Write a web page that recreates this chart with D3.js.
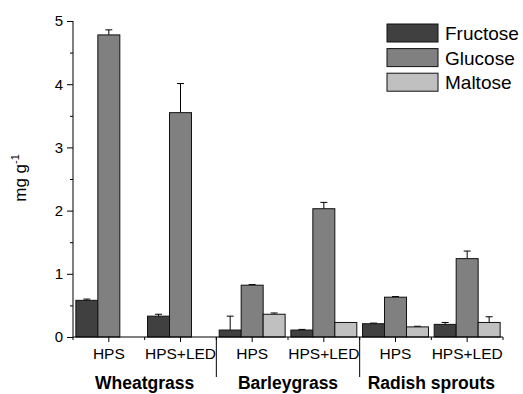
<!DOCTYPE html>
<html>
<head>
<meta charset="utf-8">
<script src="https://cdn.jsdelivr.net/npm/d3@7"></script>
<style>
  body { margin: 0; background: #fff; }
  svg { font-family: "Liberation Sans", Arial, sans-serif; }
</style>
</head>
<body>
<script>
// categories along x, grouped by plant
const categories = ["W-HPS", "W-HPS+LED", "B-HPS", "B-HPS+LED", "R-HPS", "R-HPS+LED"];
const catLabels = ["HPS", "HPS+LED", "HPS", "HPS+LED", "HPS", "HPS+LED"];
const groups = ["Wheatgrass", "Barleygrass", "Radish sprouts"];
const series = ["Fructose", "Glucose", "Maltose"];
const colors = ["#404040", "#808080", "#c0c0c0"];

// values (mg g-1), null = no bar
const fructose = [0.58, 0.33, 0.11, 0.11, 0.21, 0.20];
const fructoseErr = [0.02, 0.03, 0.22, 0.01, 0.01, 0.03];
const glucose = [4.78, 3.55, 0.82, 2.03, 0.63, 1.24];
const glucoseErr = [0.08, 0.46, 0.01, 0.10, 0.01, 0.12];
const maltose = [null, null, 0.36, 0.23, 0.16, 0.23];
const maltoseErr = [null, null, 0.02, 0.00, 0.01, 0.09];

const yTicks = [0, 1, 2, 3, 4, 5];

const vals = [fructose, glucose, maltose];
const errs = [fructoseErr, glucoseErr, maltoseErr];

let w = 523, h = 394;
let margin = {top: 21, right: 20, bottom: 57, left: 73};
let width = w - margin.left - margin.right, height = h - margin.top - margin.bottom;

let svg = d3.select("body").append("svg").attr("width", w).attr("height", h);
let g = svg.append("g").attr("transform", "translate(" + margin.left + "," + margin.top + ")");

let x = d3.scaleBand().domain(categories).range([0, width]).padding(0);
let xs = d3.scaleBand().domain(series).range([0, x.bandwidth()]).paddingOuter(0.13).paddingInner(0);
let y = d3.scaleLinear().domain([0, 5]).range([height, 0]);

// bars
series.forEach(function (s, si) {
  let data = categories.map(function (c, i) {
    return {c: c, v: vals[si][i], e: errs[si][i]};
  }).filter(function (d) { return d.v != null; });

  let bg = g.append("g");
  // error bars (upper only)
  bg.selectAll(".err").data(data).enter().append("line")
    .attr("x1", d => x(d.c) + xs(s) + xs.bandwidth() / 2)
    .attr("x2", d => x(d.c) + xs(s) + xs.bandwidth() / 2)
    .attr("y1", d => y(d.v))
    .attr("y2", d => y(d.v + d.e))
    .attr("stroke", "#000").attr("stroke-width", 1);
  bg.selectAll(".cap").data(data.filter(d => d.e > 0.005)).enter().append("line")
    .attr("x1", d => x(d.c) + xs(s) + xs.bandwidth() / 2 - 3.5)
    .attr("x2", d => x(d.c) + xs(s) + xs.bandwidth() / 2 + 3.5)
    .attr("y1", d => y(d.v + d.e))
    .attr("y2", d => y(d.v + d.e))
    .attr("stroke", "#000").attr("stroke-width", 1);
  bg.selectAll("rect").data(data).enter().append("rect")
    .attr("x", d => x(d.c) + xs(s))
    .attr("y", d => y(d.v))
    .attr("width", xs.bandwidth())
    .attr("height", d => height - y(d.v))
    .attr("fill", colors[si])
    .attr("stroke", "#111").attr("stroke-width", 1);
});

// y axis
let yAxis = g.append("g")
  .call(d3.axisLeft(y).tickValues(yTicks).tickFormat(d3.format("d")).tickSize(6).tickPadding(4));
yAxis.select(".domain").attr("d", "M0," + height + "V0");
yAxis.selectAll("text").attr("font-size", "15px").attr("font-family", "Liberation Sans, Arial");
g.append("g").call(d3.axisLeft(y).tickValues(d3.range(0.5, 5, 1)).tickSize(3).tickFormat(""))
  .select(".domain").remove();

// x axis
let xAxis = g.append("g").attr("transform", "translate(0," + height + ")")
  .call(d3.axisBottom(x).tickFormat((d, i) => catLabels[i]).tickSize(5).tickPadding(6));
xAxis.select(".domain").attr("d", "M0,0H" + width);
xAxis.selectAll("text").attr("font-size", "15.5px").attr("font-family", "Liberation Sans, Arial");
// minor ticks on band edges
g.append("g").selectAll("line").data(d3.range(0, categories.length + 1)).enter().append("line")
  .attr("x1", i => i * x.step()).attr("x2", i => i * x.step())
  .attr("y1", height).attr("y2", height + 3)
  .attr("stroke", "#000");

// group separators
g.append("g").selectAll("line").data([2, 4]).enter().append("line")
  .attr("x1", i => x(categories[i])).attr("x2", i => x(categories[i]))
  .attr("y1", height).attr("y2", height + 40)
  .attr("stroke", "#000");

// group labels
g.append("g").selectAll("text").data(groups).enter().append("text")
  .attr("x", (d, i) => x(categories[i * 2]) + x.step())
  .attr("y", height + 52)
  .attr("text-anchor", "middle")
  .attr("font-weight", "bold")
  .attr("font-size", "17.5px")
  .text(d => d);

// y label
let yl = svg.append("text")
  .attr("transform", "translate(26,178) rotate(-90)")
  .attr("text-anchor", "middle")
  .attr("font-size", "17px");
yl.append("tspan").text("mg g");
yl.append("tspan").attr("dy", "-7").attr("font-size", "11px").text("-1");

// legend
let lg = svg.append("g").attr("transform", "translate(387,24)");
series.forEach(function (s, i) {
  lg.append("rect").attr("x", 0).attr("y", i * 24.6).attr("width", 51).attr("height", 18)
    .attr("fill", colors[i]).attr("stroke", "#111").attr("stroke-width", 1);
  lg.append("text").attr("x", 58).attr("y", i * 24.6 + 16).attr("font-size", "19px").text(s);
});
</script>
</body>
</html>
